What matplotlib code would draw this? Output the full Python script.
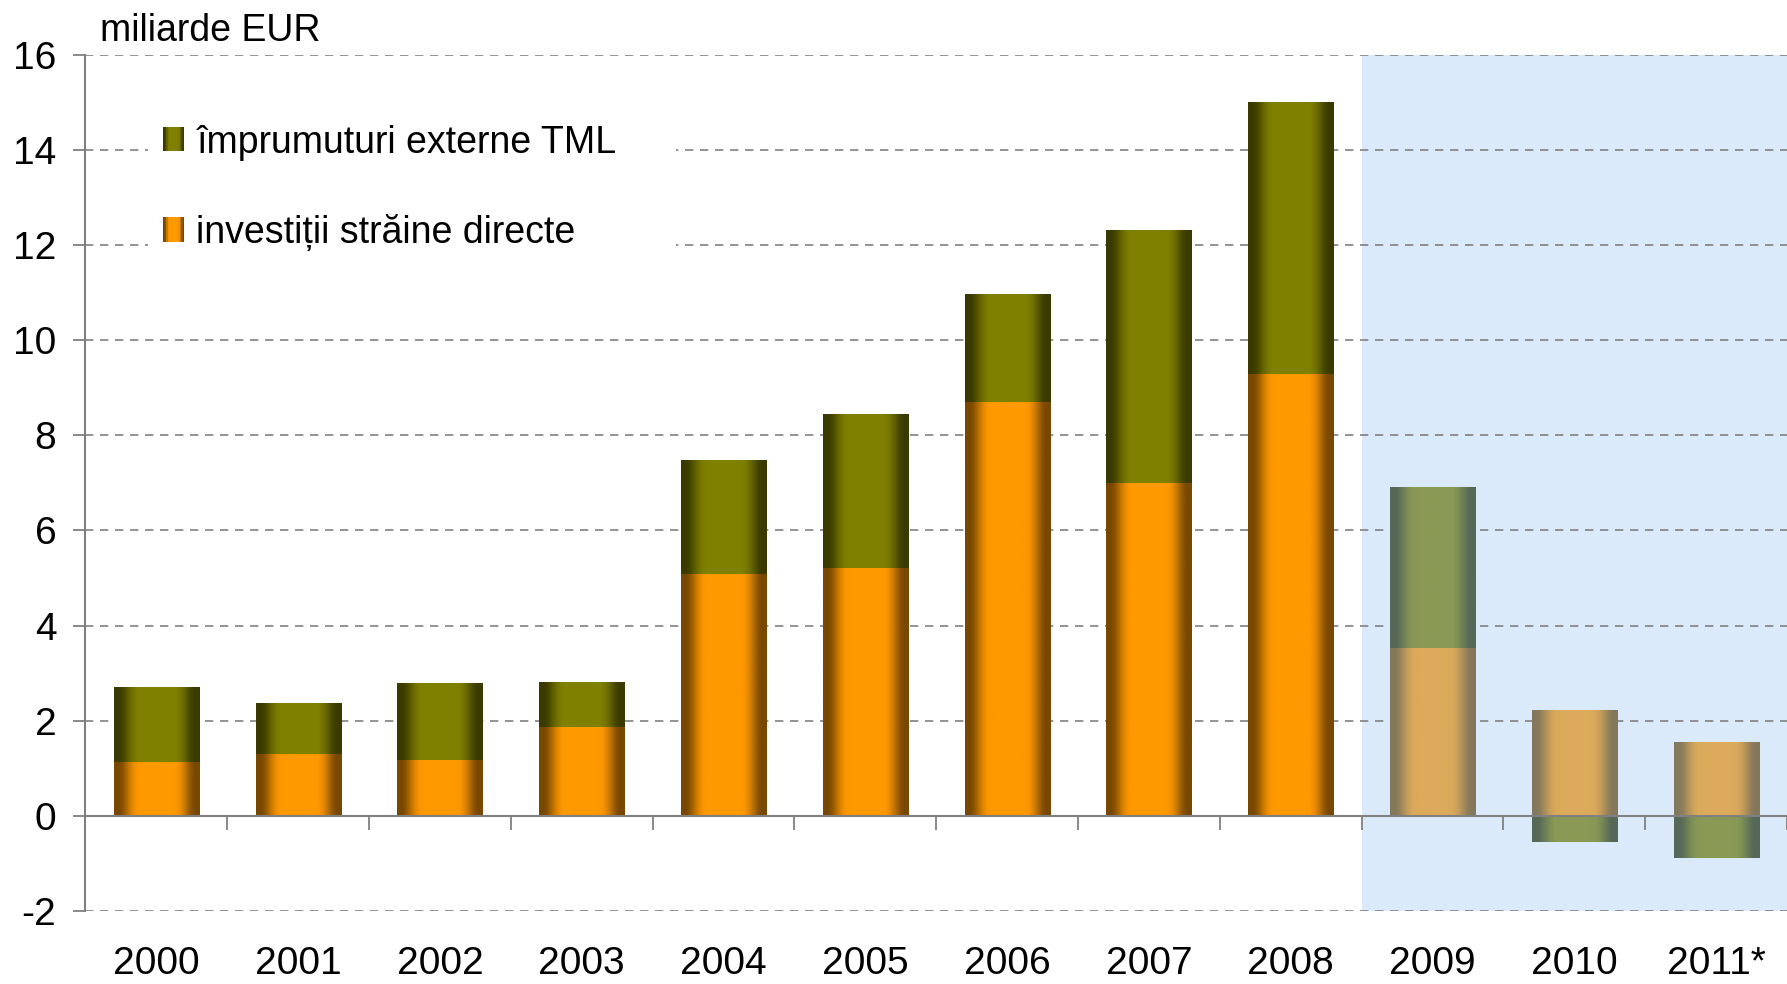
import numpy as np
import matplotlib
matplotlib.use('Agg')
import matplotlib.pyplot as plt
from matplotlib.patches import Rectangle, Patch
from matplotlib.legend_handler import HandlerBase

plt.rcParams['font.family'] = ['Liberation Sans', 'DejaVu Sans']
plt.rcParams['axes.unicode_minus'] = False

years = ['2000', '2001', '2002', '2003', '2004', '2005', '2006', '2007',
         '2008', '2009', '2010', '2011*']
fdi = [1.13, 1.30, 1.18, 1.87, 5.09, 5.21, 8.71, 7.00, 9.28, 3.53, 2.21, 1.54]
loans = [1.56, 1.07, 1.60, 0.94, 2.39, 3.23, 2.25, 5.31, 5.71, 3.38, -0.55, -0.89]
n_actual = 9  # 2000-2008 realised, rest projected

label_loans = 'împrumuturi externe TML'
label_fdi = 'investiții străine directe'

# colours (edge, centre) for the cylinder-like shading
OLIVE = ('#3a3a00', '#808000')
ORANGE = ('#784800', '#ff9900')
OLIVE_P = ('#566858', '#8a9a55')
ORANGE_P = ('#84785c', '#dcaa5a')


def weight(t):
    w = np.clip((np.sin(np.pi * t) - 0.15) / 0.68, 0, 1)
    return w * w * (3 - 2 * w)


def mix(edge, centre, w):
    e = np.array(matplotlib.colors.to_rgb(edge))
    c = np.array(matplotlib.colors.to_rgb(centre))
    return e + (c - e) * w


def gradient_row(cols, n=64):
    t = (np.arange(n) + 0.5) / n
    w = weight(t)[:, None]
    return mix(cols[0], cols[1], w)[None, :, :]


def shade_bars(ax, bars, cols_list):
    for b, cols in zip(bars, cols_list):
        x, y = b.get_x(), b.get_y()
        w, h = b.get_width(), b.get_height()
        if h == 0:
            continue
        y0, y1 = min(y, y + h), max(y, y + h)
        ax.imshow(gradient_row(cols), extent=[x, x + w, y0, y1], aspect='auto',
                  interpolation='bilinear', zorder=2, origin='lower')
        b.set_visible(False)


class GradientHandler(HandlerBase):
    def __init__(self, cols, **kw):
        super().__init__(**kw)
        self.cols = cols

    def create_artists(self, legend, orig_handle, xdescent, ydescent,
                       width, height, fontsize, trans):
        n = 14
        arts = []
        for i in range(n):
            c = mix(self.cols[0], self.cols[1], weight((i + 0.5) / n))
            r = Rectangle((-xdescent + i * width / n, -ydescent), width / n * 1.05,
                          height, facecolor=c, edgecolor='none', transform=trans)
            arts.append(r)
        return arts


fig = plt.figure(figsize=(17.87, 9.84), dpi=100)
ax = fig.add_axes([0.0478, 0.0742, 0.9522, 0.8702])

x = np.arange(len(years))
fdi_a = np.array(fdi)
loans_a = np.array(loans)
loan_bottom = np.where(loans_a >= 0, fdi_a, 0)

ax.axvspan(n_actual - 0.5, len(years) - 0.5, color='#dbeafb', zorder=0, lw=0)

b_fdi = ax.bar(x, fdi_a, width=0.6, zorder=2)
b_loans = ax.bar(x, loans_a, width=0.6, bottom=loan_bottom, zorder=2)

shade_bars(ax, b_fdi, [ORANGE if i < n_actual else ORANGE_P for i in range(len(years))])
shade_bars(ax, b_loans, [OLIVE if i < n_actual else OLIVE_P for i in range(len(years))])

ax.set_xlim(-0.5, len(years) - 0.5)
ax.set_ylim(-2, 16)
ax.set_yticks(range(-2, 17, 2))
ax.yaxis.grid(True, color='#808080', linestyle=(0, (5, 4)), linewidth=1.2, zorder=1)
ax.set_axisbelow(True)

for s in ['top', 'right']:
    ax.spines[s].set_visible(False)
ax.spines['left'].set_color('#808080')
ax.spines['left'].set_linewidth(1.5)
ax.spines['bottom'].set_position(('data', 0))
ax.spines['bottom'].set_color('#808080')
ax.spines['bottom'].set_linewidth(1.5)
ax.spines['bottom'].set_zorder(5)

ax.set_xticks(np.arange(-0.5, len(years), 1.0))
ax.tick_params(axis='x', direction='out', length=10, width=1.3, color='#808080',
               labelbottom=False)
ax.tick_params(axis='y', direction='out', length=9, width=1.3, color='#808080',
               labelsize=28, pad=12)

sec = ax.secondary_xaxis('bottom')
sec.set_xticks(x)
sec.set_xticklabels(years)
sec.tick_params(length=0, labelsize=28, pad=25)
sec.spines['bottom'].set_visible(False)

h_loans = Patch(label=label_loans)
h_fdi = Patch(label=label_fdi)
leg = ax.legend([h_loans, h_fdi], [label_loans, label_fdi],
                handler_map={h_loans: GradientHandler(OLIVE), h_fdi: GradientHandler(ORANGE)},
                loc='upper left', bbox_to_anchor=(0.037, 0.5, 0.31, 0.436), mode='expand',
                fontsize=27, frameon=True, fancybox=False, framealpha=1,
                facecolor='white', edgecolor='none', handlelength=0.55,
                handleheight=0.62, handletextpad=0.33, labelspacing=1.42, borderpad=0.4,
                borderaxespad=0)

fig.text(0.056, 0.969, 'miliarde EUR', fontsize=27, va='center', ha='left')

fig.savefig('out.png', dpi=100)
